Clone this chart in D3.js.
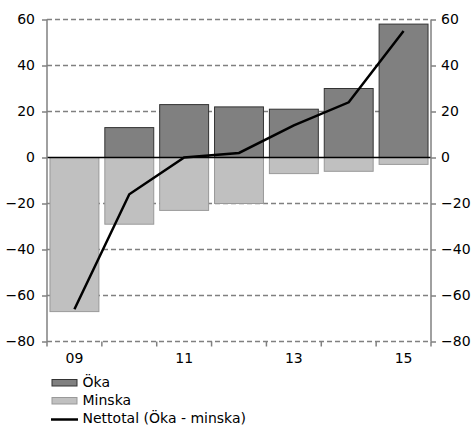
<!DOCTYPE html>
<html><head><meta charset="utf-8">
<script src="https://cdn.jsdelivr.net/npm/d3@7"></script>
<style>body{margin:0;background:#fff}svg{display:block}text{font-family:"DejaVu Sans",Verdana,sans-serif;font-size:14px;fill:#000}</style>
</head><body><svg id="c" width="471" height="426"></svg>
<script>
const categories = ["09","10","11","12","13","14","15"];
const oka = [0, 13, 23, 22, 21, 30, 58];
const minska = [-67, -29, -23, -20, -7, -6, -3];
const netto = [-66, -16, 0, 2, 14, 24, 55];
const yTicks = [-80,-60,-40,-20,0,20,40,60];
const xLabels = ["09","11","13","15"];
const legendLabels = ["Öka","Minska","Nettotal (Öka - minska)"];

const svg = d3.select("#c");
const L = 47, R = 431, T = 19.5, B = 341.5;
const x = d3.scaleBand().domain(categories).range([L, R]).paddingInner(0.09).paddingOuter(0.045);
const xOuter = d3.scaleBand().domain(categories).range([L, R]);
const y = d3.scaleLinear().domain([-80, 60]).range([B, T]);

// gridlines
svg.append("g").selectAll("line").data(yTicks.filter(d=>d!==0)).join("line")
  .attr("x1", L).attr("x2", R).attr("y1", d=>y(d)).attr("y2", d=>y(d))
  .attr("stroke", "#808080").attr("stroke-width", 1.5).attr("stroke-dasharray", "5,3");

// bars
svg.append("g").selectAll("rect").data(categories).join("rect")
  .attr("x", d=>x(d)+0.5).attr("width", x.bandwidth()-1)
  .attr("y", (d,i)=>y(0)).attr("height", (d,i)=>y(minska[i])-y(0))
  .attr("fill", "#c0c0c0").attr("stroke", "#999").attr("stroke-width", 1);
svg.append("g").selectAll("rect").data(categories).join("rect")
  .attr("x", d=>x(d)+0.5).attr("width", x.bandwidth()-1)
  .attr("y", (d,i)=>y(oka[i])).attr("height", (d,i)=>y(0)-y(oka[i]))
  .attr("fill", "#808080").attr("stroke", "#333").attr("stroke-width", 1)
  .attr("display", (d,i)=>oka[i]===0?"none":null);

// zero line
svg.append("line").attr("x1", L).attr("x2", R).attr("y1", y(0)).attr("y2", y(0))
  .attr("stroke", "#000").attr("stroke-width", 1.5);

// axes
const left = svg.append("g").attr("transform", `translate(${L},0)`)
  .call(d3.axisLeft(y).tickValues(yTicks).tickSize(5).tickPadding(7));
const right = svg.append("g").attr("transform", `translate(${R},0)`)
  .call(d3.axisRight(y).tickValues(yTicks).tickSize(5).tickPadding(5));
[left, right].forEach(g=>{
  g.select(".domain").attr("stroke", "#808080").attr("stroke-width", 1.5).attr("d", `M0,${T}V${B}`);
  g.selectAll(".tick line").attr("stroke", "#808080").attr("stroke-width", 1.5);
  g.selectAll(".tick text").attr("font-size", 14).attr("font-family", "DejaVu Sans").attr("fill", "#000");
});

// x axis: ticks at category boundaries
const bounds = categories.map(c=>xOuter(c)).concat([R]);
svg.append("g").selectAll("line").data(bounds).join("line")
  .attr("x1", d=>d).attr("x2", d=>d).attr("y1", B).attr("y2", B+5)
  .attr("stroke", "#808080").attr("stroke-width", 1.5);
svg.append("g").selectAll("text").data(xLabels).join("text")
  .attr("x", d=>xOuter(d)+xOuter.bandwidth()/2).attr("y", B+21)
  .attr("text-anchor", "middle").text(d=>d);

// net line
svg.append("path").datum(netto)
  .attr("d", d3.line().x((d,i)=>xOuter(categories[i])+xOuter.bandwidth()/2).y(d=>y(d)))
  .attr("fill", "none").attr("stroke", "#000").attr("stroke-width", 2.5);

// legend
const lg = svg.append("g");
const base = [386.5, 404.5, 422.5];
lg.append("rect").attr("x", 52).attr("y", base[0]-7).attr("width", 25).attr("height", 6.5)
  .attr("fill", "#808080").attr("stroke", "#333").attr("stroke-width", 1);
lg.append("rect").attr("x", 52).attr("y", base[1]-7).attr("width", 25).attr("height", 6.5)
  .attr("fill", "#c0c0c0").attr("stroke", "#999").attr("stroke-width", 1);
lg.append("line").attr("x1", 51).attr("x2", 78).attr("y1", base[2]-3).attr("y2", base[2]-3)
  .attr("stroke", "#000").attr("stroke-width", 2.5);
lg.selectAll("text").data(legendLabels).join("text")
  .attr("x", 82.5).attr("y", (d,i)=>base[i]).attr("font-size", 15.3).text(d=>d);
</script></body></html>
